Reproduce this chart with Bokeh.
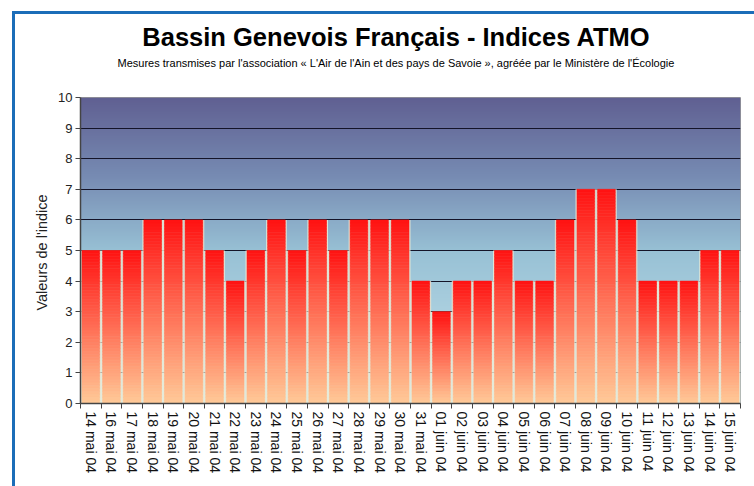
import numpy as np
from bokeh.plotting import figure
from bokeh.layouts import column
from bokeh.models import (Range1d, LinearAxis, FixedTicker, Div, ColumnDataSource)
from bokeh.embed import file_html
from bokeh.resources import INLINE

# ---------------- data ----------------
dates = ["14 mai 04", "16 mai 04", "17 mai 04", "18 mai 04", "19 mai 04", "20 mai 04",
         "21 mai 04", "22 mai 04", "23 mai 04", "24 mai 04", "25 mai 04", "26 mai 04",
         "27 mai 04", "28 mai 04", "29 mai 04", "30 mai 04", "31 mai 04", "01 juin 04",
         "02 juin 04", "03 juin 04", "04 juin 04", "05 juin 04", "06 juin 04", "07 juin 04",
         "08 juin 04", "09 juin 04", "10 juin 04", "11 juin 04", "12 juin 04", "13 juin 04",
         "14 juin 04", "15 juin 04"]
values = [5, 5, 5, 6, 6, 6, 5, 4, 5, 6, 5, 6, 5, 6, 6, 6, 4, 3, 4, 4, 5, 4, 4, 6,
          7, 7, 6, 4, 4, 4, 5, 5]
y_ticks = list(range(0, 11))

title_text = "Bassin Genevois Français - Indices ATMO"
subtitle_text = ("Mesures transmises par l'association « L'Air de l'Ain et des pays de Savoie », "
                 "agréée par le Ministère de l'Écologie")
y_label = "Valeurs de  l'indice"

FONT = "Liberation Sans"
W = 739
HEAD_H = 75
H = 397
N = len(dates)
YMAX = 10

# ---------------- header (title + subtitle) ----------------
header_html = (
    '<div style="position:relative;width:%dpx;height:%dpx;'
    "font-family:'Liberation Sans',Arial,sans-serif;color:#000;\">"
    '<div style="position:absolute;left:0;top:11px;width:762px;text-align:center;'
    'font-size:25.5px;line-height:25.5px;font-weight:bold;white-space:nowrap;">%s</div>'
    '<div style="position:absolute;left:0;top:44px;width:762px;text-align:center;'
    'font-size:11px;line-height:11px;white-space:nowrap;">%s</div>'
    '</div>' % (W, HEAD_H, title_text, subtitle_text)
)
header = Div(text=header_html, width=W, height=HEAD_H, margin=0)

# ---------------- figure ----------------
p = figure(width=W, height=H, title=None,
           x_range=Range1d(0, N), y_range=Range1d(0, YMAX),
           output_backend="svg", toolbar_location=None,
           x_axis_location=None, y_axis_location="left",
           min_border_left=65, min_border_right=14,
           min_border_top=8, min_border_bottom=83)
p.margin = 0
p.background_fill_color = "white"
p.border_fill_color = "white"
p.outline_line_color = "#9a9a9a"
p.outline_line_width = 1

# ---------------- background gradient (plot area) ----------------
stop_y = [0.0, 5.0, 7.5, 10.0]
stop_c = [(198, 229, 238), (152, 193, 213), (118, 138, 178), (96, 96, 146)]
nrow = 300
ycent = (np.arange(nrow) + 0.5) / nrow * YMAX
img = np.zeros((nrow, 1), dtype=np.uint32)
view = img.view(dtype=np.uint8).reshape((nrow, 1, 4))
for k in range(3):
    view[:, 0, k] = np.interp(ycent, stop_y, [c[k] for c in stop_c]).astype(np.uint8)
view[:, 0, 3] = 255
p.image_rgba(image=[img], x=0, y=0, dw=N, dh=YMAX, level="image")

# ---------------- grid ----------------
p.ygrid.ticker = FixedTicker(ticks=y_ticks)
p.ygrid.grid_line_color = "#141428"
p.ygrid.grid_line_width = 1.2
p.xgrid.visible = False

# ---------------- bars ----------------
xc = [i + 0.5 for i in range(N)]
src = ColumnDataSource(dict(x=xc, top=values))
p.vbar(x="x", top="top", width=1.0, bottom=0, source=src,
       fill_color="#eeedd6", fill_alpha=0.82, line_color=None)

red = np.array([255, 18, 18], dtype=float)
peach = np.array([255, 202, 152], dtype=float)
step = 0.1
L, R, B, T, C = [], [], [], [], []
bw = 0.855
for i, v in enumerate(values):
    nsl = int(round(v / step))
    for s in range(nsl):
        b = s * step
        t = min(v, b + step)
        f = ((b + t) / 2) / v
        col = peach + (red - peach) * f
        L.append(i + 0.5 - bw / 2)
        R.append(i + 0.5 + bw / 2)
        B.append(b)
        T.append(t)
        C.append("#%02x%02x%02x" % tuple(int(round(c)) for c in col))
p.quad(left=L, right=R, bottom=B, top=T, fill_color=C, line_color=C, line_width=0.6)

# ---------------- axes ----------------
yax = p.yaxis[0]
yax.ticker = FixedTicker(ticks=y_ticks)
yax.axis_line_color = "#444444"
yax.axis_line_width = 1.5
yax.major_tick_line_color = "#444444"
yax.major_tick_out = 5
yax.major_tick_in = 0
yax.minor_tick_line_color = None
yax.major_label_text_font = FONT
yax.major_label_text_font_size = "13px"
yax.major_label_text_color = "#222222"
yax.major_label_standoff = 3
yax.axis_label = y_label
yax.axis_label_text_font = FONT
yax.axis_label_text_font_size = "14.5px"
yax.axis_label_text_font_style = "normal"
yax.axis_label_text_color = "#222222"
yax.axis_label_standoff = 5

# x axis: labels at category centres, ticks (minor) at category boundaries
x_axis = LinearAxis(ticker=FixedTicker(ticks=xc, minor_ticks=list(range(N + 1))))
x_axis.major_label_overrides = {x: d for x, d in zip(xc, dates)}
x_axis.axis_line_color = "#444444"
x_axis.axis_line_width = 1.5
x_axis.major_tick_line_color = None
x_axis.major_tick_out = 5
x_axis.major_tick_in = 0
x_axis.minor_tick_line_color = "#444444"
x_axis.minor_tick_out = 5
x_axis.minor_tick_in = 0
x_axis.major_label_orientation = "vertical"
x_axis.major_label_text_font = FONT
x_axis.major_label_text_font_size = "14px"
x_axis.major_label_text_color = "#111111"
x_axis.major_label_standoff = 3
p.add_layout(x_axis, "below")

layout = column(header, p, spacing=0,
                styles={"margin-left": "12px", "margin-top": "11px",
                        "border-left": "3px solid #1b6db8",
                        "border-top": "3px solid #1b6db8"})

open("out.html", "w").write(file_html(layout, INLINE))
